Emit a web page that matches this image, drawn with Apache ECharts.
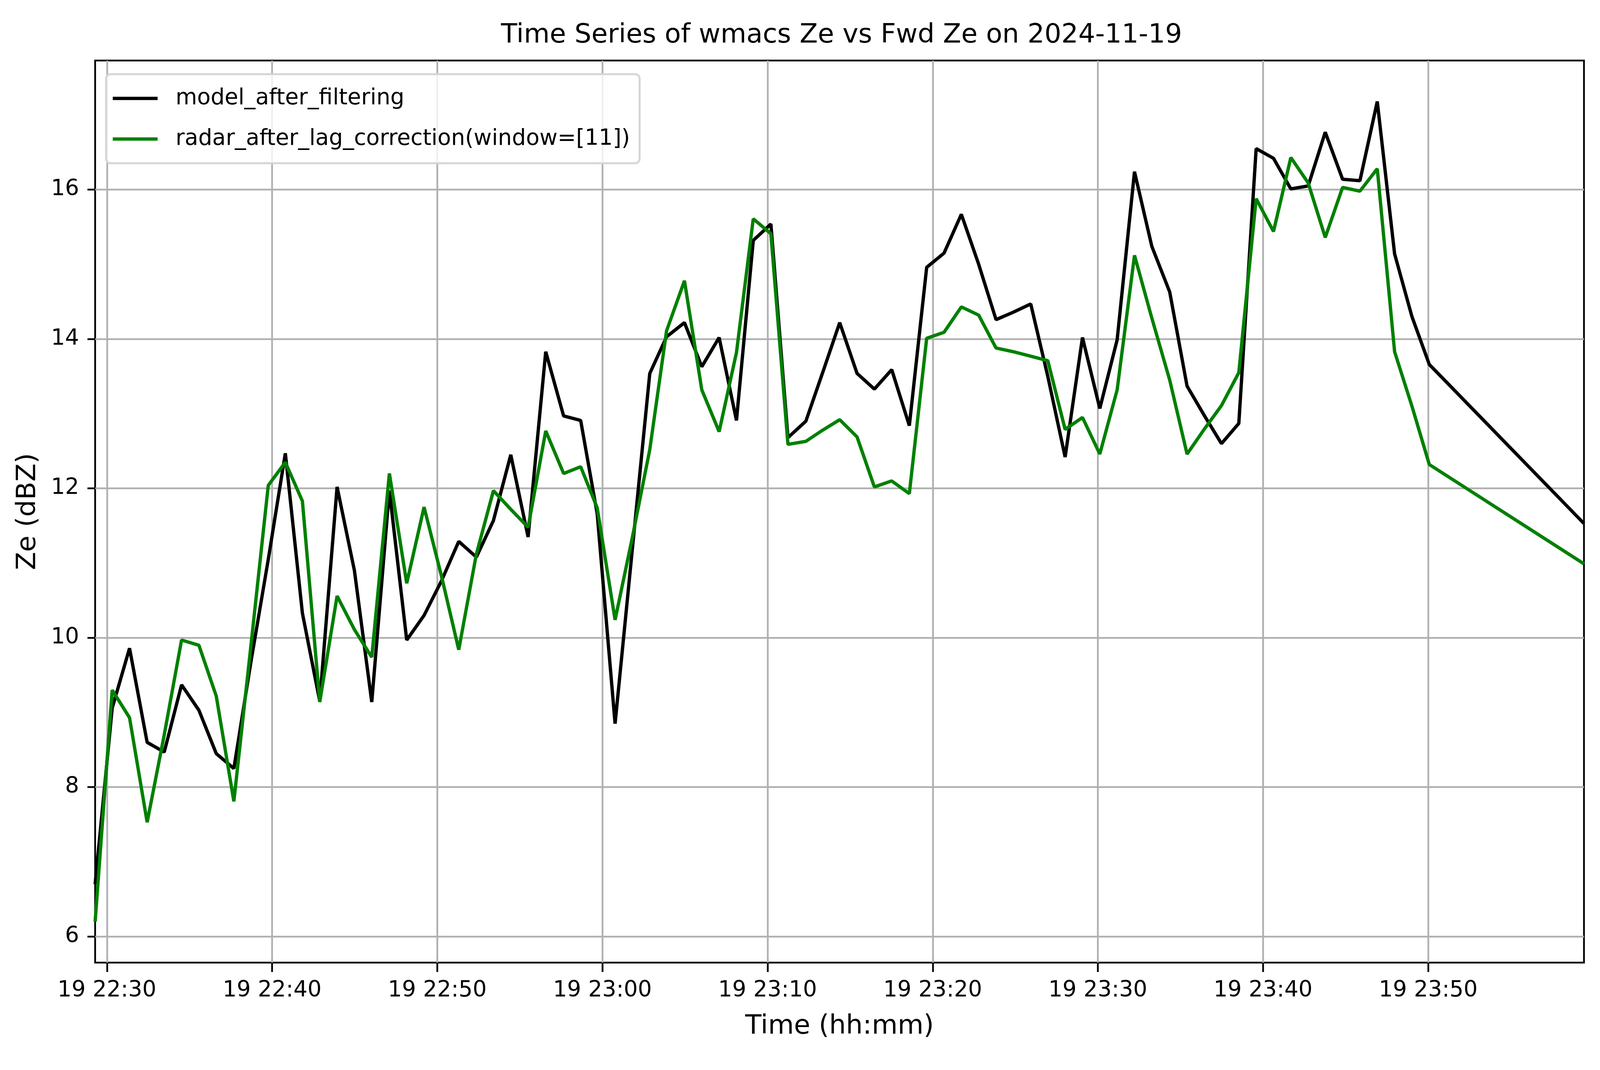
<!DOCTYPE html>
<html>
<head>
<meta charset="utf-8">
<title>wmacs Ze vs Fwd Ze</title>
<script src="https://cdn.jsdelivr.net/npm/echarts@6/dist/echarts.min.js"></script>
<style>
  html, body { margin: 0; padding: 0; background: #fff; overflow: hidden; }
  #chart { width: 100vw; height: 100vh; }
</style>
</head>
<body>
<div id="chart"></div>
<script>
// sample times on 2024-11-19
var times = [
  '22:29:17','22:30:19','22:31:22','22:32:26','22:33:28','22:34:31','22:35:34','22:36:37','22:37:41','22:38:44',
  '22:39:46','22:40:48','22:41:50','22:42:53','22:43:56','22:44:59','22:46:02','22:47:06','22:48:09','22:49:12',
  '22:50:15','22:51:18','22:52:22','22:53:24','22:54:27','22:55:30','22:56:34','22:57:39','22:58:41','22:59:41',
  '23:00:46','23:01:49','23:02:52','23:03:53','23:04:58','23:06:01','23:07:04','23:08:07','23:09:08','23:10:12',
  '23:11:14','23:12:19','23:13:20','23:14:22','23:15:25','23:16:28','23:17:31','23:18:35','23:19:38','23:20:41',
  '23:21:44','23:22:47','23:23:50','23:24:53','23:25:56','23:26:58','23:28:01','23:29:04','23:30:07','23:31:10',
  '23:32:13','23:33:16','23:34:21','23:35:24','23:36:26','23:37:29','23:38:32','23:39:35','23:40:38','23:41:41',
  '23:42:44','23:43:46','23:44:49','23:45:52','23:46:55','23:47:58','23:49:01','23:50:04','23:59:26'
];

var modelZe = [
  6.7, 9.06, 9.86, 8.6, 8.47, 9.37, 9.03, 8.45, 8.25, 9.7,
  11.05, 12.47, 10.33, 9.15, 12.02, 10.9, 9.14, 11.97, 9.97, 10.3,
  10.76, 11.29, 11.08, 11.57, 12.45, 11.35, 13.83, 12.97, 12.91, 11.66,
  8.85, 11.2, 13.54, 14.03, 14.22, 13.63, 14.02, 12.91, 15.32, 15.54,
  12.68, 12.9, 13.55, 14.22, 13.54, 13.33, 13.59, 12.84, 14.96, 15.15,
  15.67, 15.0, 14.26, 14.36, 14.47, 13.5, 12.42, 14.02, 13.07, 13.99,
  16.24, 15.24, 14.63, 13.37, 12.98, 12.6, 12.87, 16.55, 16.42, 16.01,
  16.05, 16.77, 16.14, 16.12, 17.18, 15.14, 14.3, 13.66, 11.53
];

var radarZe = [
  6.2, 9.3, 8.93, 7.53, 8.7, 9.97, 9.9, 9.22, 7.81, 9.93,
  12.04, 12.35, 11.83, 9.14, 10.56, 10.11, 9.74, 12.2, 10.73, 11.75,
  10.83, 9.84, 11.12, 11.97, 11.72, 11.48, 12.77, 12.2, 12.29, 11.74,
  10.24, 11.35, 12.52, 14.11, 14.78, 13.32, 12.76, 13.82, 15.61, 15.41,
  12.59, 12.63, 12.78, 12.92, 12.69, 12.02, 12.1, 11.93, 14.01, 14.09,
  14.43, 14.32, 13.88, 13.83, 13.77, 13.71, 12.79, 12.95, 12.46, 13.32,
  15.12, 14.28, 13.45, 12.46, 12.79, 13.11, 13.55, 15.88, 15.44, 16.43,
  16.09, 15.36, 16.03, 15.98, 16.28, 13.83, 13.1, 12.32, 10.99
];

var day = '2024-11-19';
var xTickTimes = ['22:30','22:40','22:50','23:00','23:10','23:20','23:30','23:40','23:50'];
var yTicks = [6, 8, 10, 12, 14, 16];

var dom = document.getElementById('chart');
var myChart = echarts.init(dom, null, { renderer: 'canvas' });

// layout was measured on a 4995 x 2740 picture, scale to the window we got
var s = dom.clientWidth / 4995;
var sy = dom.clientHeight / 2740;
function px(v) { return v * s; }
function py(v) { return v * sy; }

function stamp(hms) { return +echarts.time.parse(day + ' ' + hms); }
function toPairs(vals) {
  return vals.map(function (v, i) { return [stamp(times[i]), v]; });
}
var xTickValues = xTickTimes.map(function (t) { return stamp(t + ':00'); });
var tMin = stamp(times[0]), tMax = stamp(times[times.length - 1]);

// matplotlib-like 5% margins on y
var all = modelZe.concat(radarZe);
var lo = Math.min.apply(null, all), hi = Math.max.apply(null, all);
var pad = (hi - lo) * 0.05;

var font = 'DejaVu Sans';
var gridColor = '#b0b0b0';
var thin = px(5.5);

var option = {
  animation: false,
  backgroundColor: '#ffffff',
  title: {
    text: 'Time Series of wmacs Ze vs Fwd Ze on ' + day,
    left: px(2621),
    textAlign: 'center',
    top: py(52),
    textStyle: { fontFamily: font, fontSize: px(83), fontWeight: 'normal', color: '#000' }
  },
  legend: {
    orient: 'vertical',
    left: px(331),
    top: py(190),
    icon: 'rect',
    itemWidth: px(140),
    itemHeight: px(10.4),
    itemGap: py(24),
    padding: [py(22), px(30), py(22), px(21)],
    backgroundColor: 'rgba(255,255,255,0.8)',
    borderColor: '#d5d5d5',
    borderWidth: px(6),
    borderRadius: px(14),
    itemStyle: { borderWidth: 0 },
    textStyle: { fontFamily: font, fontSize: px(69), color: '#000', lineHeight: py(80), padding: [0, 0, 0, px(50)] },
    data: ['model_after_filtering', 'radar_after_lag_correction(window=[11])']
  },
  grid: {
    left: px(297), right: px(50), top: py(155), bottom: py(275),
    show: true, borderColor: '#000', borderWidth: thin,
    containLabel: false
  },
  xAxis: {
    type: 'value',
    min: tMin,
    max: tMax,
    name: 'Time (hh:mm)',
    nameLocation: 'middle',
    nameGap: py(130),
    nameTextStyle: { fontFamily: font, fontSize: px(83), color: '#000' },
    axisLine: { show: false },
    axisTick: { show: true, inside: false, length: py(24), customValues: xTickValues,
                lineStyle: { color: '#000', width: thin } },
    axisLabel: {
      customValues: xTickValues,
      margin: py(44),
      fontFamily: font, fontSize: px(69), color: '#000',
      formatter: function (v) { return echarts.time.format(v, '{dd} {HH}:{mm}', false); }
    },
    splitLine: { show: true, lineStyle: { color: gridColor, width: thin } }
  },
  yAxis: {
    type: 'value',
    min: lo - pad,
    max: hi + pad,
    name: 'Ze (dBZ)',
    nameLocation: 'middle',
    nameGap: px(167),
    nameTextStyle: { fontFamily: font, fontSize: px(83), color: '#000' },
    axisLine: { show: false },
    axisTick: { show: true, inside: false, length: px(24), customValues: yTicks,
                lineStyle: { color: '#000', width: thin } },
    axisLabel: {
      customValues: yTicks,
      margin: px(50),
      fontFamily: font, fontSize: px(69), color: '#000'
    },
    splitLine: { show: true, lineStyle: { color: gridColor, width: thin } }
  },
  series: [
    {
      name: 'model_after_filtering',
      type: 'line',
      symbol: 'none',
      color: '#000000',
      lineStyle: { color: '#000000', width: px(10.4) },
      data: toPairs(modelZe)
    },
    {
      name: 'radar_after_lag_correction(window=[11])',
      type: 'line',
      symbol: 'none',
      color: '#008000',
      lineStyle: { color: '#008000', width: px(10.4) },
      data: toPairs(radarZe)
    }
  ]
};

myChart.setOption(option);
window.addEventListener('resize', myChart.resize);
</script>
</body>
</html>
